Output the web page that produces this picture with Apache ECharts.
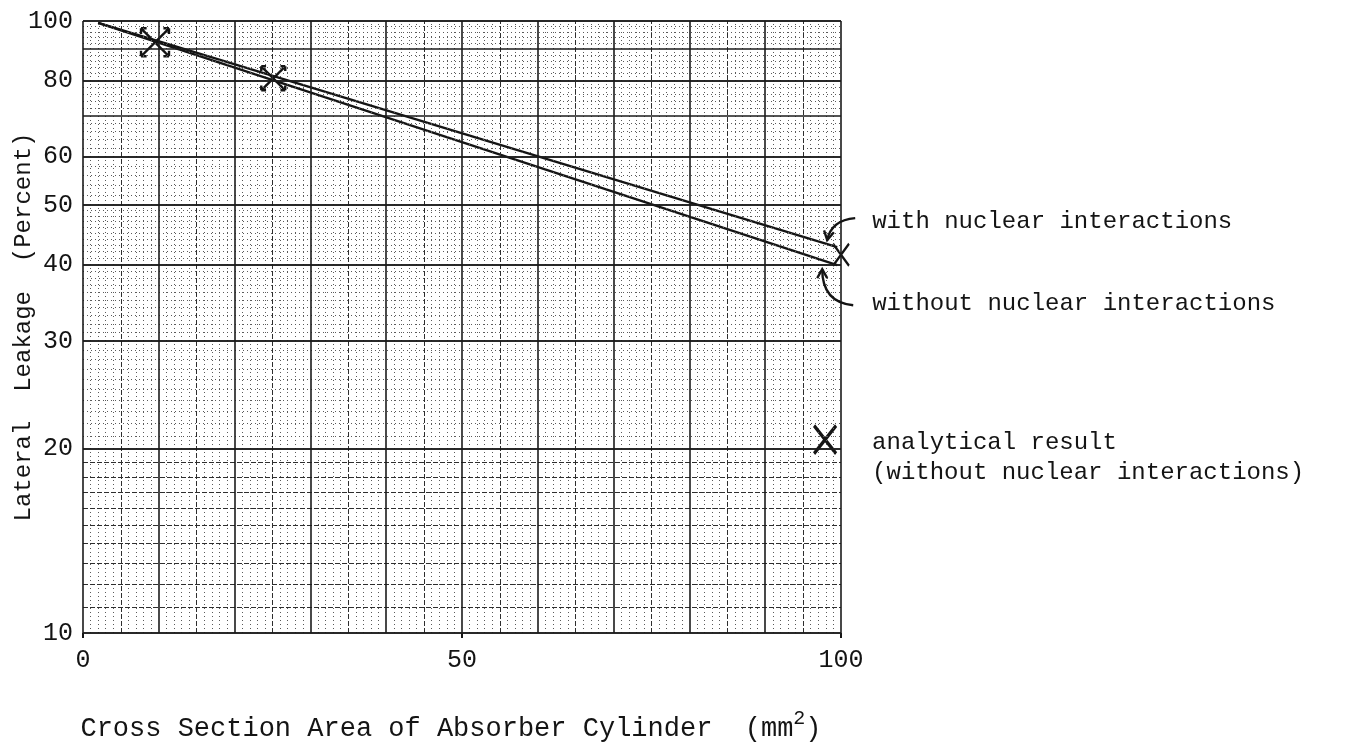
<!DOCTYPE html>
<html>
<head>
<meta charset="utf-8">
<script src="https://cdn.jsdelivr.net/npm/echarts@6/dist/echarts.min.js"></script>
<style>
  html, body { margin: 0; padding: 0; background: #ffffff; }
  #chart { width: 1371px; height: 748px; }
</style>
</head>
<body>
<div id="chart"></div>
<script>
// Lateral leakage (percent, log scale) against absorber cylinder cross section (mm^2)

// fitted lines: [cross section, leakage %]
const withNuclear = [[2, 99.3], [99.5, 42.7]];
const withoutNuclear = [[2, 99.3], [99.5, 39.9]];
// computed points
const simulatedPoints = [[9.5, 92.3], [25.1, 80.6], [100, 41.5]];
const analyticalPoints = [[97.9, 20.7]];

// tick labels
const xTickLabels = [0, 50, 100];
const yTickLabels = [10, 20, 30, 40, 50, 60, 80, 100];

// graph-paper rulings
const xMajorRules = [0, 10, 20, 30, 40, 50, 60, 70, 80, 90, 100];
const xMediumRules = [5, 15, 25, 35, 45, 55, 65, 75, 85, 95];
const yMajorRules = [10, 20, 30, 40, 50, 60, 70, 80, 90, 100];
const yMediumRules = [11, 12, 13, 14, 15, 16, 17, 18, 19];
const yMinorRules = [21, 22, 23, 24, 25, 26, 27, 28, 29,
                     31, 32, 33, 34, 35, 36, 37, 38, 39,
                     41, 42, 43, 44, 45, 46, 47, 48, 49,
                     52, 54, 56, 58, 62, 64, 66, 68, 72, 74, 76, 78,
                     82, 84, 86, 88, 92, 94, 96, 98];
const xMinorRules = [];
for (let v = 1; v < 100; v++) if (v % 5 !== 0) xMinorRules.push(v);

const INK = '#141414';
const FONT = '"Liberation Mono", "DejaVu Sans Mono", monospace';

const ruleStyle = {
  major:  { color: '#1b1b1b', width: 1.6, type: 'solid' },
  medium: { color: '#2e2e2e', width: 1,   type: [5, 2] },
  minor:  { color: '#5a5a5a', width: 1,   type: [1, 3] }
};

const rules = [];
xMinorRules.forEach(v => rules.push({ xAxis: v, lineStyle: ruleStyle.minor }));
yMinorRules.forEach(v => rules.push({ yAxis: v, lineStyle: ruleStyle.minor }));
xMediumRules.forEach(v => rules.push({ xAxis: v, lineStyle: ruleStyle.medium }));
yMediumRules.forEach(v => rules.push({ yAxis: v, lineStyle: ruleStyle.medium }));
xMajorRules.forEach(v => rules.push({ xAxis: v, lineStyle: ruleStyle.major }));
yMajorRules.forEach(v => rules.push({ yAxis: v, lineStyle: ruleStyle.major }));
// y tick labels ride on their rulings
yTickLabels.forEach(v => rules.push({
  yAxis: v,
  lineStyle: ruleStyle.major,
  label: {
    show: true, position: 'start', distance: 10,
    formatter: String(v), color: INK, fontFamily: FONT, fontSize: 25
  }
}));

// X with small outward arrowheads on each arm
const ARROW_X = 'path://M2,2L22,22M22,2L2,22M2,2L6,2M2,2L2,6M22,2L18,2M22,2L22,6M2,22L6,22M2,22L2,18M22,22L18,22M22,22L22,18';
const PLAIN_X = 'path://M0,0L20,20M20,0L0,20';

const chart = echarts.init(document.getElementById('chart'), null, { renderer: 'canvas' });

chart.setOption({
  animation: false,
  backgroundColor: '#ffffff',
  grid: { left: 83, right: 530, top: 21, bottom: 115, containLabel: false, outerBoundsMode: 'none' },
  xAxis: {
    type: 'value', min: 0, max: 100, interval: 50,
    axisLine: { show: false },
    axisTick: { show: true, length: 5, lineStyle: { color: INK, width: 2 } },
    splitLine: { show: false },
    axisLabel: {
      margin: 15, color: INK, fontFamily: FONT, fontSize: 25,
      formatter: v => (xTickLabels.indexOf(v) >= 0 ? String(v) : '')
    },
    name: 'Cross Section Area of Absorber Cylinder  (mm{sup|2})',
    nameLocation: 'middle', nameGap: 76,
    nameTextStyle: {
      color: INK, fontFamily: FONT, fontSize: 27, padding: [0, 22, 0, 0],
      rich: { sup: { fontFamily: FONT, fontSize: 20, color: INK, padding: [0, 0, 20, 0] } }
    }
  },
  yAxis: {
    type: 'log', logBase: 10, min: 10, max: 100,
    axisLine: { show: false }, axisTick: { show: false },
    axisLabel: { show: false }, splitLine: { show: false }, minorSplitLine: { show: false },
    name: 'Lateral  Leakage  (Percent)',
    nameLocation: 'middle', nameGap: 47,
    nameTextStyle: { color: INK, fontFamily: FONT, fontSize: 24 }
  },
  series: [
    {
      type: 'line', name: 'rulings', data: [[0, 10]], symbol: 'none',
      lineStyle: { opacity: 0 }, silent: true, z: 1,
      markLine: {
        silent: true, symbol: 'none', animation: false,
        label: { show: false }, emphasis: { disabled: true },
        data: rules
      }
    },
    {
      type: 'line', name: 'with nuclear interactions', data: withNuclear,
      symbol: 'none', silent: true, z: 3,
      lineStyle: { color: INK, width: 2.3 }
    },
    {
      type: 'line', name: 'without nuclear interactions', data: withoutNuclear,
      symbol: 'none', silent: true, z: 3,
      lineStyle: { color: INK, width: 2.3 }
    },
    {
      type: 'scatter', name: 'computed', silent: true, z: 4,
      data: simulatedPoints.map((p, i) => i < 2
        ? { value: p, symbol: ARROW_X, symbolSize: i === 0 ? 28 : 24 }
        : { value: p, symbol: PLAIN_X, symbolSize: [16, 22] }),
      itemStyle: { color: 'transparent', borderColor: INK, borderWidth: 2.4, opacity: 1 }
    },
    {
      type: 'scatter', name: 'analytical result', silent: true, z: 4,
      data: analyticalPoints, symbol: PLAIN_X, symbolSize: [22, 28],
      itemStyle: { color: 'transparent', borderColor: INK, borderWidth: 3.4, opacity: 1 }
    }
  ]
});

// annotations placed relative to the ends of the lines and the analytical point
function px(p) { return chart.convertToPixel({ xAxisIndex: 0, yAxisIndex: 0 }, p); }
function curvedArrow(start, ctrl, end) {
  const dx = end[0] - ctrl[0], dy = end[1] - ctrl[1];
  const len = Math.hypot(dx, dy), ux = dx / len, uy = dy / len;
  const hl = 9, hw = 5;
  const b1 = [end[0] - ux * hl - uy * hw, end[1] - uy * hl + ux * hw];
  const b2 = [end[0] - ux * hl + uy * hw, end[1] - uy * hl - ux * hw];
  return [
    { type: 'bezierCurve', silent: true, z: 5,
      shape: { x1: start[0], y1: start[1], cpx1: ctrl[0], cpy1: ctrl[1], x2: end[0], y2: end[1] },
      style: { stroke: INK, lineWidth: 2.4, fill: 'none' } },
    { type: 'polyline', silent: true, z: 5,
      shape: { points: [b1, end, b2] },
      style: { stroke: INK, lineWidth: 2.4, fill: 'none' } }
  ];
}
function note(x, y, text) {
  return { type: 'text', silent: true, z: 5, x: x, y: y,
    style: { text: text, fill: INK, font: '24px ' + FONT, verticalAlign: 'middle', align: 'left' } };
}

const U = px(withNuclear[withNuclear.length - 1]);
const L = px(withoutNuclear[withoutNuclear.length - 1]);
const A = px(analyticalPoints[0]);

chart.setOption({
  graphic: [].concat(
    curvedArrow([U[0] + 18, U[1] - 29], [U[0] - 6, U[1] - 27], [U[0] - 10, U[1] - 7]),
    curvedArrow([L[0] + 16, L[1] + 40], [L[0] - 15, L[1] + 37], [L[0] - 15, L[1] + 4]),
    [
      note(U[0] + 35, U[1] - 26, 'with nuclear interactions'),
      note(L[0] + 35, L[1] + 38, 'without nuclear interactions'),
      note(A[0] + 47, A[1] + 3, 'analytical result'),
      note(A[0] + 47, A[1] + 33, '(without nuclear interactions)')
    ]
  )
});
</script>
</body>
</html>
